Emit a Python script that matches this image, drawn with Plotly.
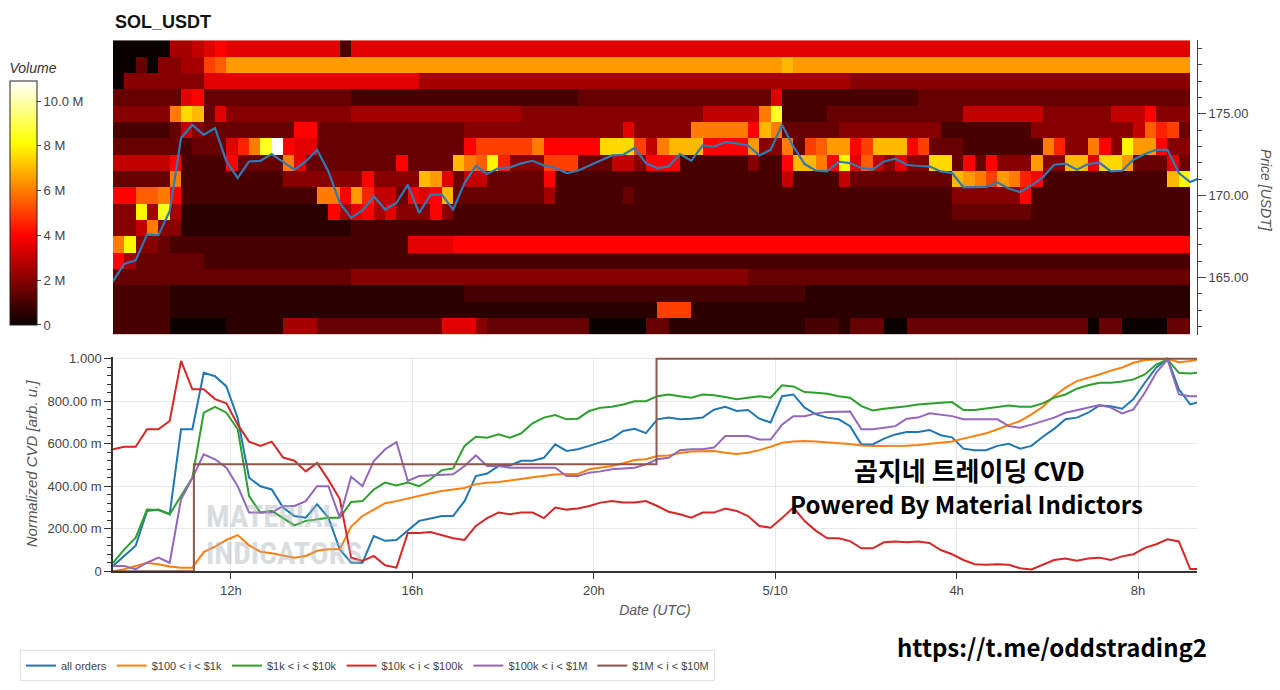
import pandas as pd
import plotly.graph_objects as go

W, H = 1280, 690
START = "2025-05-09 09:24"
END = "2025-05-10 09:18"

# ---------------- data ----------------
# price bins (USDT) of the volume heatmap, top to bottom
price_bins = [179, 178, 177, 176, 175, 174, 173, 172, 171, 170,
              169, 168, 167, 166, 165, 164, 163, 162]
# volume per 15-min column, run-length coded: char = volume in 0.5M steps (base 36), "cxN" = N columns
heat_rows = [
    "0x5 5x2 6 7 8 7x10 2 7x74",
    "0x2 3 0 4x2 5x2 a b dx49 e dx35",
    "0 4x7 7x19 5x38 4x30",
    "3x6 7 8 3x13 2x20 3x17 7 2x12 3x24",
    "4x5 c f e 3 7 4x11 5x15 4x16 6x5 c h 2x4 3x12 6x7 4x6 6x3 8 4x3",
    "2x5 3 6 4 3x8 8x2 3x13 4x14 7 4x5 cx5 8 e c 3x5 4x9 2x8 4x9 6 b 9 a 3",
    "3x6 2 3x3 7 9 c h m 8 7x2 3x13 8 a ax4 c 8x5 fx3 a 6 c ex3 8x4 d 4x2 c 3 a b dx2 8 a ex3 8 a 3x3 2x7 c 9 4x2 c 8 4 g dx2 8 4x2",
    "6x5 8 2x4 8 3x4 c 7 3x8 8 3x4 e c b g 9 4x3 ax3 3x3 6x2 4 8x3 2x6 4 2x2 8 ex2 c 8 g 7 b 6 4 7 4x2 fx2 3 8 3 8 4x3 d 4x2 ex2 7 fx2 d 3x3 7 3",
    "3x5 c 2x9 4x7 8 4x4 e d 7 3 6x2 3x5 8 2x20 6 2x4 6 3x9 e d c a d c 9 8 2x11 e g",
    "8x2 bx2 c 8 2x12 cx2 8 d 9 6x2 3 8 7 8 e 3x8 5 2x6 3 2x28 4x6 8 2x14",
    "4x2 g 5 h 5 1x13 8 5 7 8 5 7 4x3 8 4 2x44 3x7 2x14",
    "4x2 6 c 4x2 1x15 2x74",
    "c g 4x2 3 2x21 7x4 8x65",
    "8 5 3x6 2x87",
    "3x21 4x35 3x39",
    "2x5 1x26 2x30 1x34",
    "2x5 1x43 ax3 1x44",
    "2x5 0x5 1x5 5x3 3x11 7x3 4 3x9 0x5 3x2 1x12 2x3 1 3x3 0x2 3x16 0 3x2 0x4 3x2",
]
N_COLS = 95

# price line (USDT), every 15 minutes from START
price = [164.78, 165.83, 166.04, 167.62, 167.58, 169.04, 173.52, 174.33, 173.72, 174.13,
         172.09, 171.08, 172.09, 172.13, 172.54, 172.09, 171.59, 172.09, 172.80, 171.48,
         169.55, 168.64, 169.09, 169.96, 169.15, 169.55, 170.67, 168.94, 170.06, 170.06,
         169.15, 170.77, 171.82, 171.32, 171.69, 171.73, 171.97, 172.13, 171.85, 171.69,
         171.38, 171.52, 171.85, 172.13, 172.46, 172.50, 172.91, 171.99, 171.69, 171.79,
         172.54, 172.13, 173.07, 172.99, 173.27, 173.19, 173.07, 172.46, 172.80, 174.33,
         173.01, 171.93, 171.52, 171.48, 172.07, 171.99, 171.69, 171.59, 172.09, 172.26,
         171.89, 171.81, 171.79, 171.48, 171.38, 170.51, 170.51, 170.53, 170.81, 170.43,
         170.22, 170.63, 171.12, 171.89, 171.95, 171.59, 171.93, 172.01, 171.48, 171.52,
         172.20, 172.54, 172.80, 172.80, 171.38, 170.83, 171.12]

# normalized CVD, every 15 minutes from START
cvd_all = [0.025, 0.072, 0.12, 0.284, 0.29, 0.268, 0.668, 0.668, 0.934, 0.918,
           0.87, 0.72, 0.44, 0.40, 0.385, 0.30, 0.26, 0.252, 0.315, 0.252,
           0.103, 0.04, 0.04, 0.166, 0.143, 0.147, 0.19, 0.237, 0.248, 0.26,
           0.26, 0.33, 0.448, 0.46, 0.495, 0.498, 0.52, 0.52, 0.534, 0.597,
           0.566, 0.574, 0.59, 0.608, 0.624, 0.66, 0.67, 0.65, 0.715, 0.723,
           0.715, 0.718, 0.723, 0.76, 0.774, 0.754, 0.759, 0.718, 0.70, 0.824,
           0.832, 0.77, 0.738, 0.723, 0.715, 0.683, 0.597, 0.597, 0.624, 0.644,
           0.655, 0.655, 0.665, 0.64, 0.63, 0.577, 0.57, 0.57, 0.59, 0.60,
           0.577, 0.59, 0.633, 0.67, 0.715, 0.723, 0.746, 0.78, 0.777, 0.765,
           0.81, 0.887, 0.958, 1.0, 0.856, 0.785, 0.80]
cvd_100_1k = [0.0, 0.01, 0.025, 0.04, 0.033, 0.022, 0.017, 0.017, 0.09, 0.116,
              0.147, 0.17, 0.122, 0.092, 0.085, 0.075, 0.064, 0.072, 0.096, 0.103,
              0.103, 0.21, 0.26, 0.29, 0.32, 0.33, 0.343, 0.354, 0.367, 0.378,
              0.386, 0.392, 0.41, 0.417, 0.42, 0.426, 0.434, 0.442, 0.45, 0.455,
              0.458, 0.458, 0.48, 0.487, 0.495, 0.508, 0.523, 0.527, 0.542, 0.545,
              0.556, 0.563, 0.566, 0.566, 0.558, 0.552, 0.558, 0.57, 0.586, 0.605,
              0.611, 0.613, 0.611, 0.605, 0.602, 0.599, 0.592, 0.589, 0.589, 0.589,
              0.591, 0.594, 0.599, 0.605, 0.611, 0.624, 0.636, 0.649, 0.668, 0.687,
              0.707, 0.738, 0.774, 0.824, 0.864, 0.895, 0.91, 0.926, 0.944, 0.959,
              0.981, 0.994, 0.997, 1.0, 0.984, 0.989, 1.0]
cvd_1k_10k = [0.04, 0.103, 0.158, 0.29, 0.288, 0.268, 0.354, 0.44, 0.746, 0.774,
              0.746, 0.668, 0.354, 0.276, 0.284, 0.252, 0.216, 0.237, 0.244, 0.252,
              0.252, 0.326, 0.33, 0.385, 0.417, 0.404, 0.417, 0.40, 0.433, 0.476,
              0.484, 0.59, 0.633, 0.628, 0.644, 0.628, 0.649, 0.696, 0.723, 0.735,
              0.715, 0.718, 0.754, 0.77, 0.774, 0.785, 0.80, 0.80, 0.824, 0.832,
              0.824, 0.817, 0.832, 0.828, 0.82, 0.81, 0.817, 0.824, 0.817, 0.875,
              0.87, 0.843, 0.84, 0.835, 0.824, 0.817, 0.777, 0.757, 0.765, 0.77,
              0.777, 0.785, 0.79, 0.793, 0.796, 0.759, 0.759, 0.765, 0.774, 0.78,
              0.774, 0.774, 0.79, 0.817, 0.832, 0.859, 0.875, 0.887, 0.887, 0.893,
              0.903, 0.926, 0.973, 0.997, 0.934, 0.931, 0.937]
cvd_10k_100k = [0.574, 0.586, 0.586, 0.668, 0.668, 0.707, 0.99, 0.856, 0.856, 0.81,
                0.79, 0.69, 0.61, 0.59, 0.61, 0.535, 0.52, 0.47, 0.51, 0.43,
                0.34, 0.064, 0.049, 0.072, 0.028, 0.017, 0.18, 0.18, 0.185, 0.17,
                0.155, 0.147, 0.213, 0.25, 0.276, 0.268, 0.276, 0.276, 0.25, 0.30,
                0.29, 0.295, 0.307, 0.323, 0.33, 0.323, 0.323, 0.33, 0.307, 0.28,
                0.268, 0.252, 0.276, 0.276, 0.295, 0.284, 0.26, 0.213, 0.205, 0.25,
                0.30, 0.236, 0.19, 0.155, 0.155, 0.142, 0.108, 0.108, 0.136, 0.14,
                0.136, 0.14, 0.133, 0.10, 0.08, 0.053, 0.033, 0.03, 0.033, 0.03,
                0.014, 0.008, 0.03, 0.053, 0.06, 0.05, 0.06, 0.064, 0.053, 0.07,
                0.08, 0.11, 0.127, 0.15, 0.14, 0.01, 0.01]
cvd_100k_1m = [0.025, 0.025, 0.01, 0.04, 0.064, 0.04, 0.338, 0.44, 0.55, 0.527,
               0.487, 0.40, 0.276, 0.276, 0.276, 0.307, 0.307, 0.33, 0.40, 0.40,
               0.252, 0.445, 0.40, 0.519, 0.574, 0.608, 0.425, 0.448, 0.451, 0.456,
               0.456, 0.495, 0.545, 0.495, 0.495, 0.487, 0.487, 0.487, 0.487, 0.487,
               0.448, 0.448, 0.464, 0.47, 0.48, 0.483, 0.487, 0.503, 0.527, 0.534,
               0.57, 0.574, 0.574, 0.582, 0.636, 0.636, 0.636, 0.62, 0.62, 0.69,
               0.73, 0.73, 0.743, 0.75, 0.752, 0.752, 0.668, 0.668, 0.675, 0.683,
               0.718, 0.723, 0.743, 0.738, 0.73, 0.715, 0.715, 0.715, 0.715, 0.683,
               0.675, 0.69, 0.707, 0.723, 0.746, 0.757, 0.77, 0.782, 0.77, 0.743,
               0.762, 0.84, 0.934, 0.997, 0.832, 0.824, 0.824]
# $1M < i < $10M is a step series: times of its levels
cvd_1m_10m_times = ["2025-05-09 09:24", "2025-05-09 11:11", "2025-05-09 21:23", "2025-05-10 09:24"]
cvd_1m_10m = [0.0, 0.503, 1.0, 1.0]

series_names = ["all orders", "$100 < i < $1k", "$1k < i < $10k",
                "$10k < i < $100k", "$100k < i < $1M", "$1M < i < $10M"]
series_colors = ["#1f77b4", "#ff7f0e", "#2ca02c", "#d62728", "#9467bd", "#8c564b"]

x_tick_times = ["2025-05-09 12:00", "2025-05-09 16:00", "2025-05-09 20:00",
                "2025-05-10 00:00", "2025-05-10 04:00", "2025-05-10 08:00"]
x_tick_text = ["12h", "16h", "20h", "5/10", "4h", "8h"]

cvd_tick_vals = [0, 0.2, 0.4, 0.6, 0.8, 1.0]
cvd_tick_text = ["0", "200.00 m", "400.00 m", "600.00 m", "800.00 m", "1.000"]
vol_tick_vals = [0, 2e6, 4e6, 6e6, 8e6, 10e6]
vol_tick_text = ["0", "2 M", "4 M", "6 M", "8 M", "10.0 M"]

# ---------------- build ----------------
def decode(row):
    out = []
    for tok in row.split():
        if "x" in tok:
            c, n = tok.split("x")
            out += [int(c, 36) * 0.5e6] * int(n)
        else:
            out.append(int(tok, 36) * 0.5e6)
    out = out + [out[-1]] * N_COLS
    return out[:N_COLS]

t0 = pd.Timestamp(START)
line_times = pd.date_range(t0, periods=len(price), freq="15min")
heat_times = pd.date_range(t0 + pd.Timedelta(minutes=7.5), periods=N_COLS, freq="15min")

z = [decode(r) for r in heat_rows][::-1]
ybins = price_bins[::-1]

# vertical placement helpers (target pixel rows -> paper fractions)
SY, OY = 0.983, 4.7

def px(x):
    return x / W

def py(y):
    return 1 - ((y - OY) / SY) / H

def plen(h):
    return (h / SY) / H

FONT = "Liberation Sans, Arial, sans-serif"
hot = [[0.0, "rgb(11,0,0)"], [0.365, "rgb(255,0,0)"],
       [0.746, "rgb(255,255,0)"], [1.0, "rgb(255,255,255)"]]

fig = go.Figure()
fig.add_trace(go.Heatmap(
    x=heat_times, y=ybins, z=z, colorscale=hot, zmin=0, zmax=10.9e6,
    xaxis="x", yaxis="y", hoverinfo="skip", zsmooth=False,
    colorbar=dict(
        x=px(10), xanchor="left", y=py((60 + 325) / 2), yanchor="middle",
        len=plen(265), lenmode="fraction", thickness=27, thicknessmode="pixels",
        outlinewidth=1, outlinecolor="#222", xpad=0, ypad=0,
        tickvals=vol_tick_vals, ticktext=vol_tick_text,
        ticks="outside", ticklen=4, tickcolor="#444",
        tickfont=dict(family=FONT, size=13, color="#444"),
        title=dict(text="Volume", side="top",
                   font=dict(family=FONT, size=14, color="#333", style="italic")),
    ),
))
fig.add_trace(go.Scatter(x=line_times, y=price, mode="lines", xaxis="x", yaxis="y",
                         line=dict(color="#2f7ab5", width=2.2), showlegend=False,
                         hoverinfo="skip"))

cvd_series = [cvd_all, cvd_100_1k, cvd_1k_10k, cvd_10k_100k, cvd_100k_1m]
for name, color, vals in zip(series_names[:5], series_colors[:5], cvd_series):
    fig.add_trace(go.Scatter(x=line_times, y=vals, mode="lines", name=name,
                             xaxis="x2", yaxis="y2", line=dict(color=color, width=2)))
fig.add_trace(go.Scatter(x=pd.to_datetime(cvd_1m_10m_times), y=cvd_1m_10m, mode="lines",
                         name=series_names[5], xaxis="x2", yaxis="y2",
                         line=dict(color=series_colors[5], width=2, shape="hv")))

xdom = [px(113), px(1197)]
minor_price = [p for p in range(162, 180) if p % 5 != 0]

fig.update_layout(
    width=W, height=H, autosize=False,
    margin=dict(l=0, r=0, t=0, b=0),
    paper_bgcolor="white", plot_bgcolor="white",
    font=dict(family=FONT, color="#444"),
    xaxis=dict(domain=xdom, anchor="y", range=[START, END], showticklabels=False,
               showgrid=False, zeroline=False, showline=False, ticks=""),
    yaxis=dict(domain=[py(335), py(40)], anchor="x", side="right", range=[161.5, 179.5],
               tickvals=[165, 170, 175], ticktext=["165.00", "170.00", "175.00"],
               ticks="outside", ticklen=8, tickcolor="#444", showline=True,
               linecolor="#444", linewidth=1, showgrid=False, zeroline=False,
               tickfont=dict(size=13, color="#444"),
               minor=dict(tickvals=minor_price, ticks="outside", ticklen=4, tickcolor="#444")),
    xaxis2=dict(domain=xdom, anchor="y2", range=[START, END],
                tickvals=x_tick_times, ticktext=x_tick_text,
                ticks="outside", ticklen=6, tickcolor="#333", showline=True,
                linecolor="#333", linewidth=1.5, showgrid=True, gridcolor="#e8e8e8",
                zeroline=False, tickfont=dict(size=13, color="#444"),
                title=dict(text="Date (UTC)", standoff=9,
                           font=dict(size=14, color="#555", style="italic"))),
    yaxis2=dict(domain=[py(572), py(357)], anchor="x2", range=[0, 1.01],
                tickvals=cvd_tick_vals, ticktext=cvd_tick_text,
                ticks="outside", ticklen=7, tickcolor="#333", showline=True,
                linecolor="#333", linewidth=1.5, showgrid=True, gridcolor="#e8e8e8",
                zeroline=False, tickfont=dict(size=13, color="#444"),
                minor=dict(dtick=0.04, ticks="outside", ticklen=4, tickcolor="#333",
                           showgrid=False),
                title=dict(text="Normalized CVD [arb. u.]", standoff=6,
                           font=dict(size=15, color="#555", style="italic"))),
    legend=dict(orientation="h", x=px(20), y=py(651), xanchor="left", yanchor="top",
                bordercolor="#e3e3e3", borderwidth=1, bgcolor="white",
                font=dict(size=11, color="#444"), itemwidth=30),
    showlegend=True,
)

WM_FONT = "Liberation Sans Narrow, Roboto Condensed, Roboto, sans-serif"
annots = [
    dict(text="SOL_USDT", x=px(113), y=py(22), xanchor="left", yanchor="middle",
         font=dict(family=FONT, size=18, color="#111", weight="bold")),
    dict(text="Price [USDT]", x=px(1266), y=py(190), xanchor="center", yanchor="middle",
         textangle=90, font=dict(family=FONT, size=14, color="#555", style="italic")),
    dict(text="MATERIAL", x=px(204), y=py(517), xanchor="left", yanchor="middle",
         font=dict(family=WM_FONT, size=31, color="rgba(170,178,186,0.45)", weight="bold")),
    dict(text="INDICATORS", x=px(204), y=py(554), xanchor="left", yanchor="middle",
         font=dict(family=WM_FONT, size=31, color="rgba(170,178,186,0.45)", weight="bold")),
    dict(text="곰지네 트레이딩 CVD", x=px(969), y=py(470), xanchor="center", yanchor="middle",
         font=dict(family="Noto Sans CJK KR", size=26, color="#000", weight="bold")),
    dict(text="Powered By Material Indictors", x=px(966), y=py(504), xanchor="center",
         yanchor="middle",
         font=dict(family="Noto Sans CJK KR", size=24, color="#000", weight="bold")),
    dict(text="https://t.me/oddstrading2", x=px(1052), y=py(647), xanchor="center",
         yanchor="middle",
         font=dict(family="Noto Sans CJK KR", size=24, color="#000", weight="bold")),
]
for a in annots:
    a.update(xref="paper", yref="paper", showarrow=False)
fig.update_layout(annotations=annots)

post = ("var d=document.getElementById('{plot_id}');"
        "d.style.position='fixed';d.style.left='0px';d.style.top='0px';"
        "document.body.style.margin='0';document.body.style.overflow='hidden';"
        "document.documentElement.style.overflow='hidden';")
fig.write_html("out.html", config={"displayModeBar": False}, post_script=post)
